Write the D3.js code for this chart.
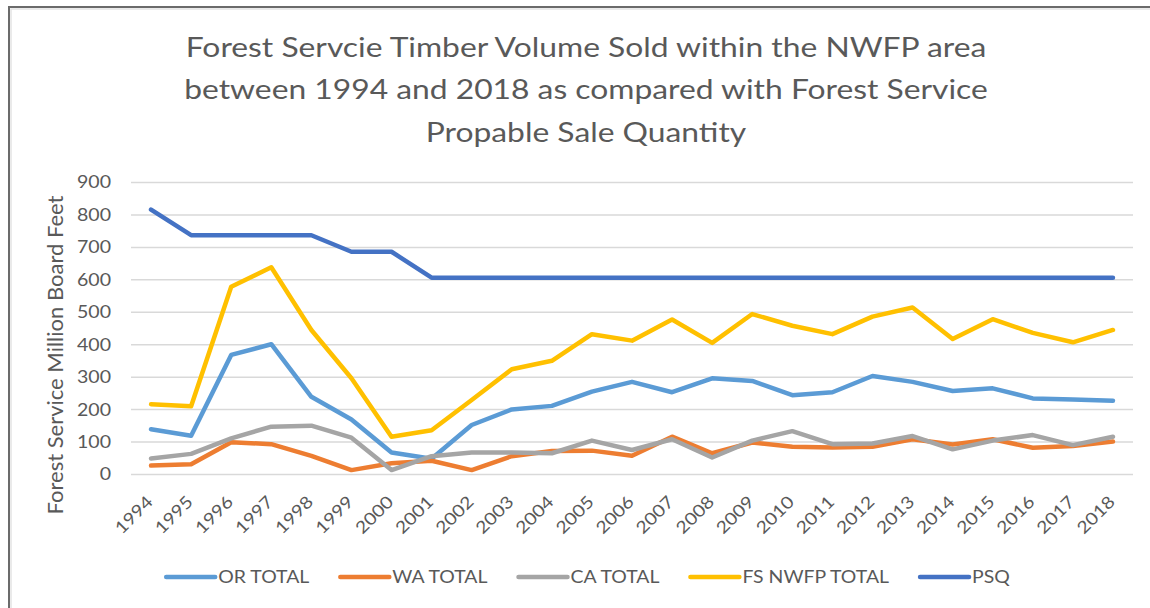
<!DOCTYPE html>
<html lang="en">
<head>
  <meta charset="UTF-8">
  <title>Forest Service Timber Volume Sold</title>
  <script src="https://d3js.org/d3.v7.min.js"></script>
  <style>
    body { margin: 0; background: #fff; }
    text { font-family: Lato, "Open Sans", sans-serif; fill: #595959; }
  </style>
</head>
<body>
  <svg id="chart" width="1150" height="608"></svg>

  <script>
    const years = ["1994", "1995", "1996", "1997", "1998", "1999", "2000", "2001", "2002",
      "2003", "2004", "2005", "2006", "2007", "2008", "2009", "2010", "2011", "2012",
      "2013", "2014", "2015", "2016", "2017", "2018"]

    const orTotal = [138, 118, 367, 400, 238, 168, 66, 47, 151, 199, 210, 254, 284,
      252, 295, 287, 243, 252, 302, 284, 256, 264, 233, 230, 226]
    const waTotal = [26, 30, 98, 92, 56, 12, 33, 41, 12, 55, 71, 72, 56,
      115, 64, 97, 84, 82, 84, 107, 91, 107, 81, 86, 100]
    const caTotal = [48, 62, 110, 146, 149, 112, 12, 55, 66, 66, 64, 103, 74,
      107, 51, 103, 132, 92, 94, 117, 76, 103, 120, 89, 115]
    const fsTotal = [215, 209, 577, 637, 444, 295, 115, 135, 228, 323, 349, 431, 411,
      476, 404, 493, 457, 431, 485, 513, 416, 477, 435, 406, 444]
    const psq = [815, 736, 736, 736, 736, 685, 685, 605, 605, 605, 605, 605, 605,
      605, 605, 605, 605, 605, 605, 605, 605, 605, 605, 605, 605]

    const yTicks = [0, 100, 200, 300, 400, 500, 600, 700, 800, 900]

    const series = [
      { name: "OR TOTAL", values: orTotal, color: "#5B9BD5" },
      { name: "WA TOTAL", values: waTotal, color: "#ED7D31" },
      { name: "CA TOTAL", values: caTotal, color: "#A5A5A5" },
      { name: "FS NWFP TOTAL", values: fsTotal, color: "#FFC000" },
      { name: "PSQ", values: psq, color: "#4472C4" }
    ]

    const titleLines = [
      "Forest Servcie Timber Volume Sold within the NWFP area",
      "between 1994 and 2018 as compared with Forest Service",
      "Propable Sale Quantity"
    ]

    const SX = 1.15 // text looks a bit wide in the source picture

    const svg = d3.select("#chart")
    const plotLeft = 131, plotRight = 1133, plotTop = 182, plotBottom = 474

    // frame
    svg.append("path")
      .attr("d", "M9,608 V7 H1150")
      .attr("fill", "none")
      .attr("stroke", "#6b6b6b")
      .attr("stroke-width", 2)
    svg.append("path")
      .attr("d", "M11,608 V9 H1150")
      .attr("fill", "none")
      .attr("stroke", "#e4e4e4")
      .attr("stroke-width", 1.5)

    const x = d3.scaleBand().domain(years).range([plotLeft, plotRight])
    const cx = d => x(d) + x.bandwidth() / 2
    const y = d3.scaleLinear().domain([0, 900]).range([plotBottom, plotTop])

    // gridlines + y labels
    const yAxis = svg.append("g")
      .attr("transform", "translate(" + plotLeft + ",0)")
      .call(d3.axisLeft(y).tickValues(yTicks).tickSize(-(plotRight - plotLeft)).tickPadding(20))
    yAxis.select(".domain").remove()
    yAxis.selectAll(".tick line").attr("stroke", "#d9d9d9").attr("stroke-width", 1.5)
    yAxis.selectAll(".tick text")
      .attr("x", null).attr("dy", "0.35em")
      .attr("transform", "translate(-20,0) scale(" + SX + ",1)")
      .style("font-size", "17px")
      .style("font-family", "Lato, sans-serif")
      .attr("fill", "#595959")

    // x labels
    svg.append("g").selectAll("text")
      .data(years)
      .join("text")
      .attr("transform", d => "translate(" + (cx(d) + 3) + ",503) rotate(-45) scale(" + SX + ",1)")
      .attr("text-anchor", "end")
      .style("font-size", "17px")
      .text(d => d)

    // lines
    const line = d3.line()
      .x((v, i) => cx(years[i]))
      .y(v => y(v))

    series.forEach(s => {
      svg.append("path")
        .datum(s.values)
        .attr("fill", "none")
        .attr("stroke", s.color)
        .attr("stroke-width", 4.5)
        .attr("stroke-linejoin", "round")
        .attr("stroke-linecap", "round")
        .attr("d", line)
    })

    // title
    titleLines.forEach((t, i) => {
      svg.append("text")
        .attr("transform", "translate(586," + (57 + i * 42.3) + ") scale(1.2,1)")
        .attr("text-anchor", "middle")
        .style("font-size", "26.5px")
        .text(t)
    })

    // y axis title
    svg.append("text")
      .attr("transform", "translate(63,355) rotate(-90)")
      .attr("text-anchor", "middle")
      .style("font-size", "22px")
      .text("Forest Service Million Board Feet")

    // legend
    const legend = svg.append("g")
    let lx = 0
    series.forEach(s => {
      const g = legend.append("g").attr("transform", "translate(" + lx + ",0)")
      g.append("line")
        .attr("x1", 0).attr("x2", 49)
        .attr("y1", 0).attr("y2", 0)
        .attr("stroke", s.color)
        .attr("stroke-width", 4.5)
        .attr("stroke-linecap", "round")
      const t = g.append("text")
        .attr("transform", "translate(52,0) scale(1.08,1)")
        .attr("dy", "0.35em")
        .style("font-size", "18px")
        .text(s.name)
      lx += 52 + t.node().getComputedTextLength() * 1.08 + 31
    })
    const legendWidth = lx - 31
    legend.attr("transform", "translate(" + (588 - legendWidth / 2) + ",577)")
  </script>
</body>
</html>
